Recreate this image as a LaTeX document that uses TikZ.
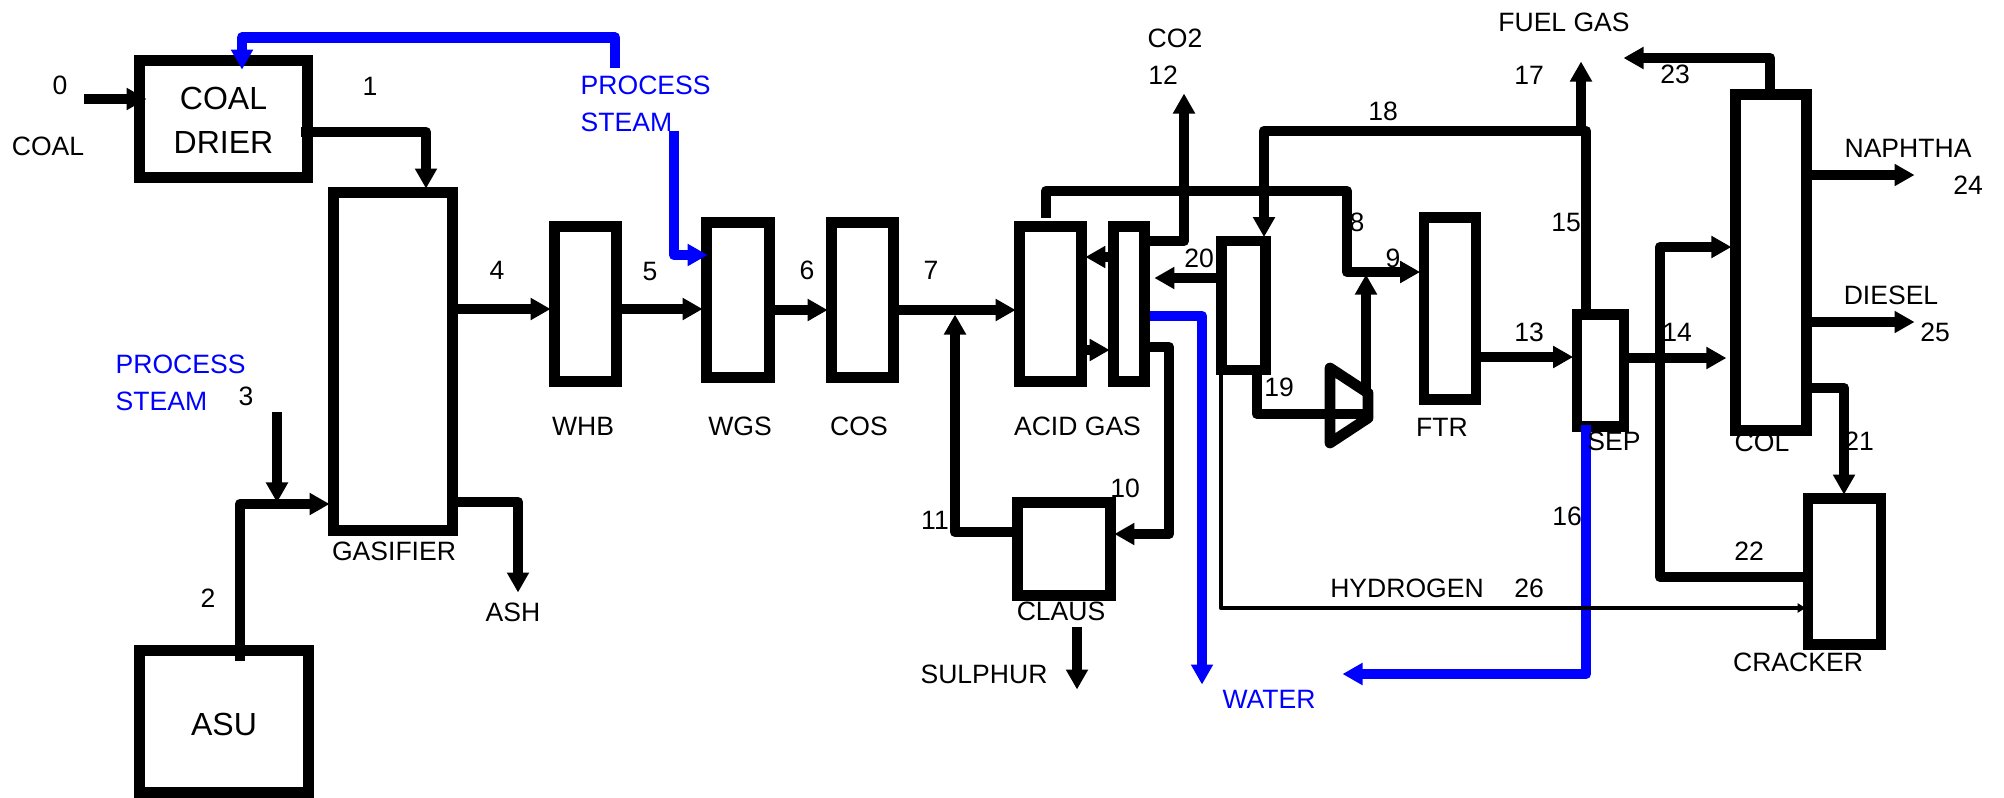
\documentclass[tikz,border=0pt]{standalone}
\usepackage{fontspec}
\setmainfont{Liberation Sans}
\usetikzlibrary{arrows.meta}
\tikzset{
	unit/.style={draw, line width=0.107cm, inner sep=0pt},
	tag/.style={inner sep=0pt, font=\fontsize{7.55pt}{10.5pt}\selectfont},
	bigtag/.style={font=\fontsize{9.1pt}{12.5pt}\selectfont},
	flow/.style={line width=0.107cm, line join=round, shorten >=-0.015cm, -{Triangle[length=0.2cm, width=0.21cm]}},
	steam/.style={flow, color=blue},
	thinflow/.style={line width=0.045cm, line join=round, shorten >=-0.03cm, -{Triangle[length=0.08cm, width=0.09cm]}}
}

\begin{document}
\begin{tikzpicture}[x=0.01cm, y=-0.01cm]
	\useasboundingbox (0,0) rectangle (2004,797);

	\node[unit, bigtag, align=center, minimum width=1.68cm, minimum height=1.17cm] (coaldrier) at (223.5,119) {};
	\node[bigtag, align=center, inner sep=0pt] (coaldriertext) at (coaldrier.center) [yshift=-0.015cm] {COAL\\DRIER};
	\node[unit, minimum width=1.19cm, minimum height=3.38cm] (gasifier) at (393,361.5) {};
	\node[unit, minimum width=1.69cm, minimum height=1.42cm] (asu) at (224,721.5) {};
	\node[bigtag, inner sep=0pt] (asutext) at (224,724) {ASU};
	\node[unit, minimum width=0.62cm, minimum height=1.55cm] (whb) at (585.5,304) {};
	\node[unit, minimum width=0.63cm, minimum height=1.55cm] (wgs) at (738,300) {};
	\node[unit, minimum width=0.62cm, minimum height=1.55cm] (cos) at (862.5,300) {};
	\node[unit, minimum width=0.62cm, minimum height=1.55cm] (acidgas) at (1050.5,304) {};
	\node[unit, minimum width=0.31cm, minimum height=1.55cm] (absorber) at (1129,304) {};
	\node[unit, minimum width=0.44cm, minimum height=1.29cm] (stripper) at (1243.5,305.5) {};
	\node[unit, minimum width=0.93cm, minimum height=0.93cm] (claus) at (1064,549) {};
	\node[unit, minimum width=0.52cm, minimum height=1.82cm] (ftr) at (1450,308.5) {};
	\node[unit, minimum width=0.47cm, minimum height=1.12cm] (sep) at (1600.5,370.5) {};
	\node[unit, minimum width=0.715cm, minimum height=3.36cm] (col) at (1771,262.5) {};
	\node[unit, minimum width=0.73cm, minimum height=1.46cm] (cracker) at (1844.5,571.5) {};

	\coordinate (comptopleft) at (1330,368);
	\coordinate (comptopright) at (1368,393);
	\coordinate (compbotright) at (1368,418);
	\coordinate (compbotleft) at (1330,443);
	\draw[line width=0.107cm, line join=round] (comptopleft) -- (comptopright) -- (compbotright) -- (compbotleft) -- cycle;

	\coordinate (coalin) at (84,99);
	\coordinate (steamstart) at (615,68);
	\coordinate (wgssteam) at (674,131);
	\coordinate (steamthree) at (277,412);
	\coordinate (mixtwo) at (277,501);
	\coordinate (ashout) at (518,591);
	\coordinate (mixseven) at (955,316);
	\coordinate (cotwoout) at (1184,95);
	\coordinate (fuelstart) at (1581,131);
	\coordinate (fuelout) at (1581,63);
	\coordinate (waterdown) at (1202,683);
	\coordinate (waterleft) at (1344,674);
	\coordinate (sulphurout) at (1077,688);
	\coordinate (lightsout) at (1625,58);
	\coordinate (naphthaout) at (1913,175);
	\coordinate (dieselout) at (1913,322);
	\coordinate (compout) at (1366,276);

	\draw[steam] (steamstart) |- (242,37.5) -- ([yshift=-0.13cm]coaldrier.north -| 242,0);
	\draw[steam] (wgssteam) |- ([xshift=0.05cm]wgs.west |- 0,255);
	\draw[steam] (absorber.east |- 0,316) -| (waterdown);
	\draw[steam] ([yshift=0.07cm]sep.south -| 1586,0) |- (waterleft);

	\draw[flow] (coalin) -- ([xshift=0.11cm]coaldrier.west |- 0,99);
	\draw[flow] ([xshift=-0.12cm]coaldrier.east |- 0,132) -| (gasifier.north -| 426,0);
	\draw[flow] ([yshift=-0.16cm]asu.north -| 240,0) |- (gasifier.west |- 0,504);
	\draw[flow] (steamthree) -- (mixtwo);
	\draw[flow] (gasifier.east |- 0,502) -| (ashout);
	\draw[flow] (gasifier.east |- 0,309) -- (whb.west |- 0,309);
	\draw[flow] (whb.east |- 0,309) -- (wgs.west |- 0,309);
	\draw[flow] (wgs.east |- 0,310) -- (cos.west |- 0,310);
	\draw[flow] (cos.east |- 0,310) -- (acidgas.west |- 0,310);
	\draw[flow] (claus.west |- 0,532) -| (mixseven);
	\draw[flow] (absorber.west |- 0,257) -- (acidgas.east |- 0,257);
	\draw[flow] (acidgas.east |- 0,350) -- (absorber.west |- 0,350);
	\draw[flow] (absorber.east |- 0,241) -| (cotwoout);
	\draw[flow] ([yshift=0.03cm]acidgas.north -| 1046,0) |- (1347,191) |- (ftr.west |- 0,272);
	\draw[flow] (sep.north -| 1586,0) |- (1264,131) -- (stripper.north -| 1264,0);
	\draw[flow] (fuelstart) -- (fuelout);
	\draw[flow] (stripper.west |- 0,278) -- ([xshift=0.06cm]absorber.east |- 0,278);
	\draw[line width=0.107cm, line join=round] (stripper.south -| 1257,0) |- (compbotright |- 0,414);
	\draw[flow] (comptopright -| compout) -- (compout);
	\draw[thinflow] (stripper.south -| 1221,0) |- (cracker.west |- 0,608);
	\draw[flow] (absorber.east |- 0,347) -| (1169,534) -- (claus.east |- 0,534);
	\draw[flow] ([yshift=-0.26cm]claus.south -| 1077,0) -- (sulphurout);
	\draw[flow] (ftr.east |- 0,357) -- (sep.west |- 0,357);
	\draw[flow] (sep.east |- 0,358) -- ([xshift=-0.05cm]col.west |- 0,358);
	\draw[flow] (cracker.west |- 0,577) -| (1660,247) -- (col.west |- 0,247);
	\draw[flow] (col.north -| 1770,0) |- (lightsout);
	\draw[flow] (col.east |- 0,175) -- (naphthaout);
	\draw[flow] (col.east |- 0,322) -- (dieselout);
	\draw[flow] (col.east |- 0,388) -| (cracker.north -| 1844,0);

	\node[tag] (coallabel) at (48,146) {COAL};
	\node[tag] (gasifierlabel) at (394,551) {GASIFIER};
	\node[tag] (ashlabel) at (513,612) {ASH};
	\node[tag] (whblabel) at (583,426) {WHB};
	\node[tag] (wgslabel) at (740,426) {WGS};
	\node[tag] (coslabel) at (859,426) {COS};
	\node[tag] (acidlabel) at (1077.5,426) {ACID GAS};
	\node[tag] (ftrlabel) at (1442,427) {FTR};
	\node[tag] (seplabel) at (1614,441) {SEP};
	\node[tag] (collabel) at (1762,442) {COL};
	\node[tag] (clauslabel) at (1061,611) {CLAUS};
	\node[tag] (sulphurlabel) at (984,674) {SULPHUR};
	\node[tag] (crackerlabel) at (1798,662) {CRACKER};
	\node[tag] (hydrogenlabel) at (1407,588) {HYDROGEN};
	\node[tag] (co2label) at (1175,38) {CO2};
	\node[tag] (fuellabel) at (1564,22) {FUEL GAS};
	\node[tag] (naphthalabel) at (1908,148) {NAPHTHA};
	\node[tag] (diesellabel) at (1891,295) {DIESEL};
	\node[tag, text=blue] (waterlabel) at (1269,699) {WATER};
	\node[tag, text=blue, align=left, anchor=west] (steamtop) at (580,103.5) {PROCESS\\STEAM};
	\node[tag, text=blue, align=left, anchor=west] (steamleft) at (115,382.5) {PROCESS\\STEAM};

	\node[tag] (s0) at (60,85) {0};
	\node[tag] (s1) at (370,86) {1};
	\node[tag] (s2) at (208,598) {2};
	\node[tag] (s3) at (246,396) {3};
	\node[tag] (s4) at (497,270) {4};
	\node[tag] (s5) at (650,271) {5};
	\node[tag] (s6) at (807,270) {6};
	\node[tag] (s7) at (931,270) {7};
	\node[tag] (s8) at (1357,222) {8};
	\node[tag] (s9) at (1393,258) {9};
	\node[tag] (s10) at (1125,488) {10};
	\node[tag] (s11) at (935,520) {11};
	\node[tag] (s12) at (1163,75) {12};
	\node[tag] (s13) at (1529,332) {13};
	\node[tag] (s14) at (1677,332) {14};
	\node[tag] (s15) at (1566,222) {15};
	\node[tag] (s16) at (1567,516) {16};
	\node[tag] (s17) at (1529,75) {17};
	\node[tag] (s18) at (1383,111) {18};
	\node[tag] (s19) at (1279,387) {19};
	\node[tag] (s20) at (1199,258) {20};
	\node[tag] (s21) at (1859,441) {21};
	\node[tag] (s22) at (1749,551) {22};
	\node[tag] (s23) at (1675,74) {23};
	\node[tag] (s24) at (1968,185) {24};
	\node[tag] (s25) at (1935,332) {25};
	\node[tag] (s26) at (1529,588) {26};
\end{tikzpicture}
\end{document}
